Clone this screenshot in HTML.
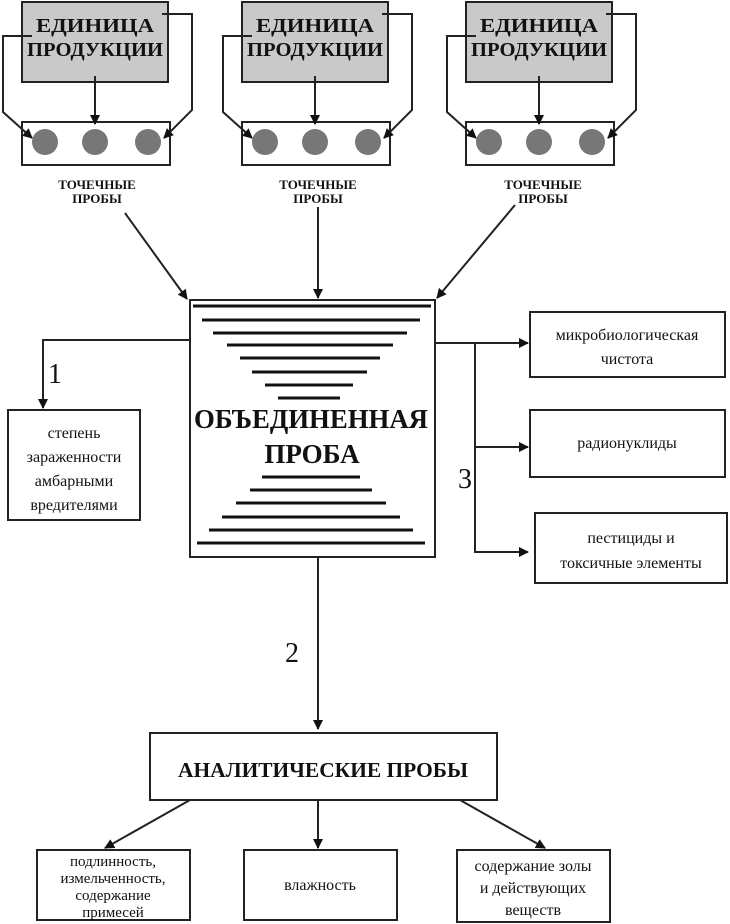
<!DOCTYPE html>
<html><head><meta charset="utf-8"><style>
body{margin:0;background:#fff}
svg{display:block}
text{font-family:"Liberation Serif","DejaVu Serif",serif;fill:#111}
</style></head><body>
<svg width="730" height="924" viewBox="0 0 730 924" xmlns="http://www.w3.org/2000/svg">
<defs><marker id="a" markerWidth="10" markerHeight="10" refX="9" refY="5" orient="auto" markerUnits="userSpaceOnUse"><path d="M0,0 L10,5 L0,10 z" fill="#111"/></marker></defs>
<g stroke="#222" stroke-width="2" fill="none">
<g>
<rect x="22" y="2" width="146" height="80" fill="#c9c9c9"/>
<rect x="22" y="122" width="148" height="43" fill="#fff"/>
<path d="M95,76 L95,124" marker-end="url(#a)"/>
<path d="M32,36 L3,36 L3,112 L32,138" marker-end="url(#a)"/>
<path d="M162,14 L192,14 L192,110 L164,138" marker-end="url(#a)"/>
</g>
<g transform="translate(220,0)">
<rect x="22" y="2" width="146" height="80" fill="#c9c9c9"/>
<rect x="22" y="122" width="148" height="43" fill="#fff"/>
<path d="M95,76 L95,124" marker-end="url(#a)"/>
<path d="M32,36 L3,36 L3,112 L32,138" marker-end="url(#a)"/>
<path d="M162,14 L192,14 L192,110 L164,138" marker-end="url(#a)"/>
</g>
<g transform="translate(444,0)">
<rect x="22" y="2" width="146" height="80" fill="#c9c9c9"/>
<rect x="22" y="122" width="148" height="43" fill="#fff"/>
<path d="M95,76 L95,124" marker-end="url(#a)"/>
<path d="M32,36 L3,36 L3,112 L32,138" marker-end="url(#a)"/>
<path d="M162,14 L192,14 L192,110 L164,138" marker-end="url(#a)"/>
</g>
<path d="M125,213 L187,299" marker-end="url(#a)"/>
<path d="M318,207 L318,298" marker-end="url(#a)"/>
<path d="M515,205 L437,298" marker-end="url(#a)"/>
<rect x="190" y="300" width="245" height="257" fill="#fff"/>
<path d="M190,340 L43,340 L43,408" marker-end="url(#a)"/>
<rect x="8" y="410" width="132" height="110"/>
<path d="M435,343 L528,343" marker-end="url(#a)"/>
<path d="M475,343 L475,552 L528,552" marker-end="url(#a)"/>
<path d="M475,447 L528,447" marker-end="url(#a)"/>
<rect x="530" y="312" width="195" height="65"/>
<rect x="530" y="410" width="195" height="67"/>
<rect x="535" y="513" width="192" height="70"/>
<path d="M318,557 L318,729" marker-end="url(#a)"/>
<rect x="150" y="733" width="347" height="67"/>
<path d="M190,800 L105,848" marker-end="url(#a)"/>
<path d="M318,800 L318,848" marker-end="url(#a)"/>
<path d="M460,800 L545,848" marker-end="url(#a)"/>
<rect x="37" y="850" width="153" height="70"/>
<rect x="244" y="850" width="153" height="70"/>
<rect x="457" y="850" width="153" height="72"/>
</g>
<g fill="#777">
<circle cx="45" cy="142" r="13"/><circle cx="95" cy="142" r="13"/><circle cx="148" cy="142" r="13"/>
<circle cx="265" cy="142" r="13"/><circle cx="315" cy="142" r="13"/><circle cx="368" cy="142" r="13"/>
<circle cx="489" cy="142" r="13"/><circle cx="539" cy="142" r="13"/><circle cx="592" cy="142" r="13"/>
</g>
<g stroke="#111" stroke-width="3">
<line x1="193" y1="306" x2="431" y2="306"/>
<line x1="202" y1="320" x2="420" y2="320"/>
<line x1="213" y1="333" x2="407" y2="333"/>
<line x1="227" y1="345" x2="393" y2="345"/>
<line x1="240" y1="358" x2="380" y2="358"/>
<line x1="252" y1="372" x2="367" y2="372"/>
<line x1="265" y1="385" x2="353" y2="385"/>
<line x1="278" y1="398" x2="340" y2="398"/>
<line x1="262" y1="477" x2="360" y2="477"/>
<line x1="250" y1="490" x2="372" y2="490"/>
<line x1="236" y1="503" x2="386" y2="503"/>
<line x1="222" y1="517" x2="400" y2="517"/>
<line x1="209" y1="530" x2="413" y2="530"/>
<line x1="197" y1="543" x2="425" y2="543"/>
</g>
<g font-size="20" text-anchor="middle" font-weight="bold">
<text x="95" y="32" textLength="118" lengthAdjust="spacingAndGlyphs">ЕДИНИЦА</text><text x="95" y="56" textLength="136" lengthAdjust="spacingAndGlyphs">ПРОДУКЦИИ</text>
<text x="315" y="32" textLength="118" lengthAdjust="spacingAndGlyphs">ЕДИНИЦА</text><text x="315" y="56" textLength="136" lengthAdjust="spacingAndGlyphs">ПРОДУКЦИИ</text>
<text x="539" y="32" textLength="118" lengthAdjust="spacingAndGlyphs">ЕДИНИЦА</text><text x="539" y="56" textLength="136" lengthAdjust="spacingAndGlyphs">ПРОДУКЦИИ</text>
</g>
<g font-size="13" font-weight="bold" text-anchor="middle">
<text x="97" y="189">ТОЧЕЧНЫЕ</text><text x="97" y="203">ПРОБЫ</text>
<text x="318" y="189">ТОЧЕЧНЫЕ</text><text x="318" y="203">ПРОБЫ</text>
<text x="543" y="189">ТОЧЕЧНЫЕ</text><text x="543" y="203">ПРОБЫ</text>
</g>
<g text-anchor="middle">
<text x="311" y="428" font-size="27" font-weight="bold" textLength="234" lengthAdjust="spacingAndGlyphs">ОБЪЕДИНЕННАЯ</text>
<text x="312" y="463" font-size="27" font-weight="bold">ПРОБА</text>
<text x="55" y="383" font-size="28">1</text>
<text x="292" y="662" font-size="28">2</text>
<text x="465" y="488" font-size="28">3</text>
<g font-size="16">
<text x="74" y="438">степень</text><text x="74" y="462">зараженности</text><text x="74" y="486">амбарными</text><text x="74" y="510">вредителями</text>
<text x="627" y="340">микробиологическая</text><text x="627" y="364">чистота</text>
<text x="627" y="448">радионуклиды</text>
<text x="631" y="543">пестициды и</text><text x="631" y="568">токсичные элементы</text>
<text x="113" y="866" font-size="15">подлинность,</text><text x="113" y="883" font-size="15">измельченность,</text><text x="113" y="900" font-size="15">содержание</text><text x="113" y="917" font-size="15">примесей</text>
<text x="320" y="890">влажность</text>
<text x="533" y="871">содержание золы</text><text x="533" y="893">и действующих</text><text x="533" y="915">веществ</text>
</g>
<text x="323" y="777" font-size="21" font-weight="bold" textLength="290" lengthAdjust="spacingAndGlyphs">АНАЛИТИЧЕСКИЕ ПРОБЫ</text>
</g>
</svg>
</body></html>
